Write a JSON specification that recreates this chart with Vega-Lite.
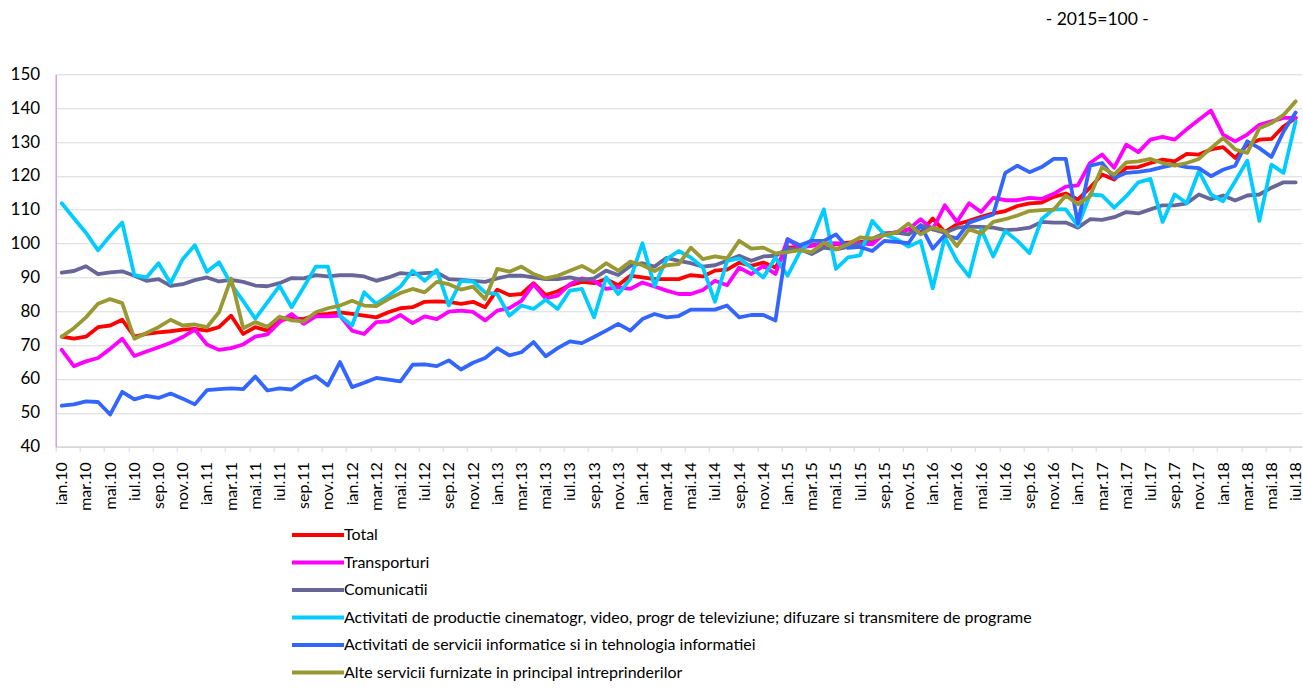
{
 "$schema": "https://vega.github.io/schema/vega-lite/v6.json",
 "width": 1246,
 "height": 372.4,
 "autosize": {"type": "none"},
 "padding": {"left": 55.7, "top": 74.3, "right": 1.3, "bottom": 242.3},
 "background": "white",
 "title": {"text": "- 2015=100 -", "anchor": "start", "frame": "group", "dx": 990, "offset": 37, "fontSize": 17.5, "fontWeight": "normal", "font": "Lato", "color": "#000000"},
 "data": {"values": [
  {"m":"ian.10","a":72.5,"b":68.6,"c":91.4,"d":111.9,"e":52.1,"f":72.5},
  {"m":"feb.10","a":71.9,"b":63.8,"c":91.9,"d":107.5,"e":52.5,"f":75.0},
  {"m":"mar.10","a":72.5,"b":65.2,"c":93.3,"d":103.2,"e":53.4,"f":78.2},
  {"m":"apr.10","a":75.3,"b":66.2,"c":91.0,"d":98.0,"e":53.2,"f":82.2},
  {"m":"mai.10","a":75.8,"b":68.9,"c":91.5,"d":102.3,"e":49.5,"f":83.6},
  {"m":"iun.10","a":77.5,"b":71.9,"c":91.8,"d":106.2,"e":56.2,"f":82.4},
  {"m":"iul.10","a":72.5,"b":66.8,"c":90.5,"d":90.7,"e":54.0,"f":71.9},
  {"m":"aug.10","a":73.3,"b":68.1,"c":89.0,"d":90.0,"e":55.0,"f":73.6},
  {"m":"sep.10","a":73.8,"b":69.4,"c":89.5,"d":94.2,"e":54.4,"f":75.3},
  {"m":"oct.10","a":74.1,"b":70.7,"c":87.5,"d":88.3,"e":55.7,"f":77.5},
  {"m":"nov.10","a":74.6,"b":72.4,"c":88.0,"d":95.4,"e":54.2,"f":75.8},
  {"m":"dec.10","a":74.8,"b":74.6,"c":89.2,"d":99.5,"e":52.5,"f":76.1},
  {"m":"ian.11","a":74.3,"b":70.2,"c":90.0,"d":91.7,"e":56.7,"f":75.3},
  {"m":"feb.11","a":75.3,"b":68.6,"c":88.8,"d":94.5,"e":57.0,"f":79.7},
  {"m":"mar.11","a":78.7,"b":69.1,"c":89.3,"d":88.0,"e":57.2,"f":89.7},
  {"m":"apr.11","a":73.3,"b":70.2,"c":88.7,"d":83.0,"e":57.0,"f":75.0},
  {"m":"mai.11","a":75.3,"b":72.5,"c":87.6,"d":77.8,"e":60.7,"f":76.8},
  {"m":"iun.11","a":74.3,"b":73.2,"c":87.4,"d":82.6,"e":56.6,"f":75.4},
  {"m":"iul.11","a":77.3,"b":76.8,"c":88.3,"d":87.5,"e":57.2,"f":78.4},
  {"m":"aug.11","a":77.9,"b":79.2,"c":89.8,"d":81.2,"e":56.9,"f":77.3},
  {"m":"sep.11","a":77.7,"b":76.3,"c":89.7,"d":87.1,"e":59.3,"f":77.0},
  {"m":"oct.11","a":78.9,"b":78.5,"c":90.7,"d":93.2,"e":60.8,"f":79.7},
  {"m":"nov.11","a":79.2,"b":78.5,"c":90.3,"d":93.2,"e":58.1,"f":80.9},
  {"m":"dec.11","a":79.7,"b":78.7,"c":90.7,"d":78.7,"e":65.0,"f":81.7},
  {"m":"ian.12","a":79.2,"b":74.3,"c":90.7,"d":75.8,"e":57.6,"f":83.1},
  {"m":"feb.12","a":78.7,"b":73.3,"c":90.3,"d":85.6,"e":58.9,"f":81.7},
  {"m":"mar.12","a":78.2,"b":76.8,"c":89.0,"d":82.2,"e":60.3,"f":81.5},
  {"m":"apr.12","a":79.7,"b":77.0,"c":90.0,"d":84.6,"e":59.8,"f":83.6},
  {"m":"mai.12","a":80.9,"b":78.9,"c":91.3,"d":87.3,"e":59.3,"f":85.4},
  {"m":"iun.12","a":81.2,"b":76.5,"c":91.0,"d":92.0,"e":64.2,"f":86.6},
  {"m":"iul.12","a":82.8,"b":78.5,"c":91.3,"d":89.0,"e":64.3,"f":85.6},
  {"m":"aug.12","a":82.9,"b":77.7,"c":91.5,"d":92.2,"e":63.8,"f":88.7},
  {"m":"sep.12","a":82.8,"b":79.9,"c":89.5,"d":81.7,"e":65.5,"f":88.0},
  {"m":"oct.12","a":82.2,"b":80.2,"c":89.3,"d":89.0,"e":62.8,"f":86.4},
  {"m":"nov.12","a":82.8,"b":79.8,"c":89.0,"d":88.8,"e":64.8,"f":87.3},
  {"m":"dec.12","a":81.2,"b":77.3,"c":88.7,"d":85.6,"e":66.2,"f":83.6},
  {"m":"ian.13","a":86.4,"b":80.2,"c":89.7,"d":85.1,"e":69.1,"f":92.5},
  {"m":"feb.13","a":84.8,"b":80.9,"c":90.5,"d":78.7,"e":67.0,"f":91.7},
  {"m":"mar.13","a":85.1,"b":83.1,"c":90.5,"d":81.7,"e":67.9,"f":93.2},
  {"m":"apr.13","a":88.3,"b":88.0,"c":90.0,"d":80.7,"e":70.9,"f":91.0},
  {"m":"mai.13","a":84.8,"b":83.8,"c":89.5,"d":83.4,"e":66.7,"f":89.7},
  {"m":"iun.13","a":85.9,"b":84.6,"c":89.5,"d":80.7,"e":69.1,"f":90.5},
  {"m":"iul.13","a":87.7,"b":88.0,"c":90.0,"d":86.1,"e":71.1,"f":92.0},
  {"m":"aug.13","a":88.7,"b":89.7,"c":89.3,"d":86.6,"e":70.6,"f":93.4},
  {"m":"sep.13","a":88.3,"b":89.0,"c":89.7,"d":78.2,"e":72.4,"f":91.5},
  {"m":"oct.13","a":89.5,"b":86.6,"c":92.0,"d":90.0,"e":74.3,"f":94.2},
  {"m":"nov.13","a":87.7,"b":87.1,"c":90.7,"d":85.1,"e":76.3,"f":92.0},
  {"m":"dec.13","a":90.5,"b":86.6,"c":93.4,"d":89.5,"e":74.3,"f":94.7},
  {"m":"ian.14","a":90.0,"b":88.5,"c":94.2,"d":100.1,"e":77.7,"f":93.6},
  {"m":"feb.14","a":89.5,"b":87.3,"c":93.2,"d":87.5,"e":79.2,"f":91.9},
  {"m":"mar.14","a":89.5,"b":86.1,"c":95.8,"d":95.4,"e":78.2,"f":93.6},
  {"m":"apr.14","a":89.5,"b":85.1,"c":94.9,"d":97.8,"e":78.6,"f":93.9},
  {"m":"mai.14","a":90.7,"b":85.1,"c":94.2,"d":95.9,"e":80.5,"f":98.8},
  {"m":"iun.14","a":90.3,"b":86.3,"c":93.2,"d":92.9,"e":80.5,"f":95.4},
  {"m":"iul.14","a":92.0,"b":89.0,"c":93.6,"d":82.8,"e":80.5,"f":96.2},
  {"m":"aug.14","a":92.3,"b":87.7,"c":94.9,"d":94.9,"e":81.7,"f":95.6},
  {"m":"sep.14","a":94.4,"b":92.9,"c":96.4,"d":95.6,"e":78.2,"f":100.8},
  {"m":"oct.14","a":93.4,"b":91.0,"c":94.9,"d":92.9,"e":78.9,"f":98.5},
  {"m":"nov.14","a":94.4,"b":93.4,"c":96.2,"d":90.0,"e":78.9,"f":98.8},
  {"m":"dec.14","a":92.9,"b":91.0,"c":96.4,"d":95.9,"e":77.3,"f":97.1},
  {"m":"ian.15","a":98.8,"b":101.3,"c":98.5,"d":90.5,"e":101.3,"f":97.5},
  {"m":"feb.15","a":99.0,"b":98.8,"c":98.3,"d":97.4,"e":99.5,"f":98.1},
  {"m":"mar.15","a":99.5,"b":99.3,"c":96.9,"d":101.3,"e":100.8,"f":97.5},
  {"m":"apr.15","a":99.8,"b":100.0,"c":98.8,"d":110.1,"e":100.8,"f":100.3},
  {"m":"mai.15","a":99.8,"b":100.1,"c":98.3,"d":92.5,"e":102.7,"f":98.3},
  {"m":"iun.15","a":100.3,"b":99.8,"c":99.0,"d":95.9,"e":98.7,"f":99.8},
  {"m":"iul.15","a":100.5,"b":100.1,"c":99.8,"d":96.5,"e":99.0,"f":101.8},
  {"m":"aug.15","a":100.8,"b":99.8,"c":101.4,"d":106.7,"e":97.8,"f":101.5},
  {"m":"sep.15","a":102.7,"b":102.9,"c":103.0,"d":102.7,"e":100.8,"f":102.5},
  {"m":"oct.15","a":103.4,"b":103.2,"c":103.2,"d":101.3,"e":100.5,"f":103.2},
  {"m":"nov.15","a":104.2,"b":104.2,"c":102.7,"d":99.1,"e":100.1,"f":105.9},
  {"m":"dec.15","a":103.2,"b":107.2,"c":105.4,"d":100.8,"e":105.4,"f":102.7},
  {"m":"ian.16","a":107.4,"b":104.2,"c":104.2,"d":86.8,"e":98.5,"f":104.7},
  {"m":"feb.16","a":103.4,"b":111.3,"c":103.2,"d":101.8,"e":102.5,"f":103.7},
  {"m":"mar.16","a":105.7,"b":106.4,"c":104.7,"d":94.9,"e":101.5,"f":99.3},
  {"m":"apr.16","a":106.7,"b":111.9,"c":105.0,"d":90.3,"e":106.2,"f":104.2},
  {"m":"mai.16","a":107.9,"b":109.3,"c":104.9,"d":104.2,"e":107.4,"f":103.0},
  {"m":"iun.16","a":108.9,"b":113.5,"c":104.7,"d":96.2,"e":108.6,"f":106.4},
  {"m":"iul.16","a":109.6,"b":112.8,"c":104.0,"d":103.7,"e":120.9,"f":107.2},
  {"m":"aug.16","a":111.1,"b":112.8,"c":104.2,"d":100.8,"e":123.0,"f":108.3},
  {"m":"sep.16","a":111.9,"b":113.5,"c":104.7,"d":97.2,"e":121.1,"f":109.6},
  {"m":"oct.16","a":112.1,"b":113.2,"c":106.4,"d":107.2,"e":122.6,"f":109.9},
  {"m":"nov.16","a":113.8,"b":114.7,"c":106.2,"d":110.2,"e":125.0,"f":110.0},
  {"m":"dec.16","a":114.8,"b":116.8,"c":106.2,"d":110.1,"e":125.0,"f":114.2},
  {"m":"ian.17","a":113.0,"b":117.2,"c":104.7,"d":105.2,"e":106.0,"f":111.6},
  {"m":"feb.17","a":116.5,"b":123.8,"c":107.2,"d":114.5,"e":123.0,"f":114.0},
  {"m":"mar.17","a":120.4,"b":126.3,"c":107.0,"d":114.2,"e":123.8,"f":122.6},
  {"m":"apr.17","a":118.9,"b":122.4,"c":107.8,"d":110.6,"e":119.4,"f":120.4},
  {"m":"mai.17","a":122.4,"b":129.2,"c":109.3,"d":114.0,"e":120.9,"f":124.0},
  {"m":"iun.17","a":122.6,"b":127.0,"c":108.9,"d":118.1,"e":121.2,"f":124.3},
  {"m":"iul.17","a":123.8,"b":130.7,"c":110.1,"d":119.1,"e":121.7,"f":125.0},
  {"m":"aug.17","a":124.8,"b":131.5,"c":111.3,"d":106.4,"e":122.6,"f":123.8},
  {"m":"sep.17","a":124.3,"b":130.7,"c":111.3,"d":114.5,"e":123.3,"f":123.0},
  {"m":"oct.17","a":126.5,"b":133.8,"c":111.9,"d":111.9,"e":122.6,"f":123.8},
  {"m":"nov.17","a":126.3,"b":136.6,"c":114.5,"d":121.4,"e":122.3,"f":125.0},
  {"m":"dec.17","a":127.8,"b":139.3,"c":113.1,"d":114.5,"e":119.9,"f":128.2},
  {"m":"ian.18","a":128.5,"b":132.2,"c":114.2,"d":112.5,"e":121.8,"f":131.2},
  {"m":"feb.18","a":125.3,"b":130.2,"c":112.7,"d":118.4,"e":123.0,"f":127.8},
  {"m":"mar.18","a":129.2,"b":132.2,"c":114.2,"d":124.5,"e":130.2,"f":126.8},
  {"m":"apr.18","a":130.7,"b":135.1,"c":114.5,"d":106.7,"e":128.2,"f":134.1},
  {"m":"mai.18","a":130.9,"b":136.1,"c":116.5,"d":123.3,"e":125.6,"f":135.6},
  {"m":"iun.18","a":134.6,"b":137.1,"c":118.1,"d":120.9,"e":133.1,"f":138.0},
  {"m":"iul.18","a":137.1,"b":137.1,"c":118.1,"d":136.1,"e":138.7,"f":142.0}
 ]},
 "transform": [{"fold": ["a", "b", "c", "d", "e", "f"], "as": ["s", "v"]}],
 "mark": {"type": "line", "strokeWidth": 3.8, "strokeJoin": "round", "strokeCap": "round"},
 "encoding": {
  "x": {
   "field": "m", "type": "ordinal", "sort": null,
   "scale": {"type": "point", "padding": 0.5},
   "axis": {
    "title": null,
    "values": ["ian.10","mar.10","mai.10","iul.10","sep.10","nov.10","ian.11","mar.11","mai.11","iul.11","sep.11","nov.11","ian.12","mar.12","mai.12","iul.12","sep.12","nov.12","ian.13","mar.13","mai.13","iul.13","sep.13","nov.13","ian.14","mar.14","mai.14","iul.14","sep.14","nov.14","ian.15","mar.15","mai.15","iul.15","sep.15","nov.15","ian.16","mar.16","mai.16","iul.16","sep.16","nov.16","ian.17","mar.17","mai.17","iul.17","sep.17","nov.17","ian.18","mar.18","mai.18","iul.18"],
    "labelAngle": -90, "labelFontSize": 16, "labelFont": "Lato", "labelColor": "#000000",
    "labelPadding": 10, "tickSize": 5, "tickColor": "#d9d9d9", "tickWidth": 1,
    "domainColor": "#d9d9d9", "domainWidth": 1.5,
    "tickOffset": -6.05, "labelOffset": 6.05,
    "grid": false, "labelOverlap": false, "labelBound": false
   }
  },
  "y": {
   "field": "v", "type": "quantitative",
   "scale": {"domain": [40, 150], "nice": false, "zero": false},
   "axis": {
    "title": null,
    "values": [40, 50, 60, 70, 80, 90, 100, 110, 120, 130, 140, 150],
    "labelFontSize": 17, "labelFont": "Lato", "labelColor": "#000000", "labelPadding": 16,
    "ticks": false, "domainColor": "#c9a3da", "domainWidth": 1.5,
    "grid": true, "gridColor": "#d9d9d9", "gridWidth": 1
   }
  },
  "color": {
   "field": "s", "type": "nominal",
   "scale": {"domain": ["a", "b", "c", "d", "e", "f"], "range": ["#ff0000", "#ff00ff", "#666699", "#00ccff", "#3366ff", "#999933"]},
   "legend": {
    "title": null, "orient": "none", "legendX": 247.3, "legendY": 445.7, "direction": "vertical",
    "symbolType": "M-2,0H2", "symbolSize": 676, "symbolStrokeWidth": 4,
    "labelFontSize": 16, "labelFont": "Lato", "labelColor": "#000000", "labelLimit": 1000,
    "rowPadding": 4.5, "labelOffset": 11, "padding": 0,
    "labelExpr": "datum.label == 'a' ? 'Total' : datum.label == 'b' ? 'Transporturi' : datum.label == 'c' ? 'Comunicatii' : datum.label == 'd' ? 'Activitati de productie cinematogr, video, progr de televiziune; difuzare si transmitere de programe' : datum.label == 'e' ? 'Activitati de servicii informatice si in tehnologia informatiei' : 'Alte servicii furnizate in principal intreprinderilor'"
   }
  },
  "order": {"value": null}
 },
 "config": {"view": {"stroke": null}, "font": "Lato"}
}
